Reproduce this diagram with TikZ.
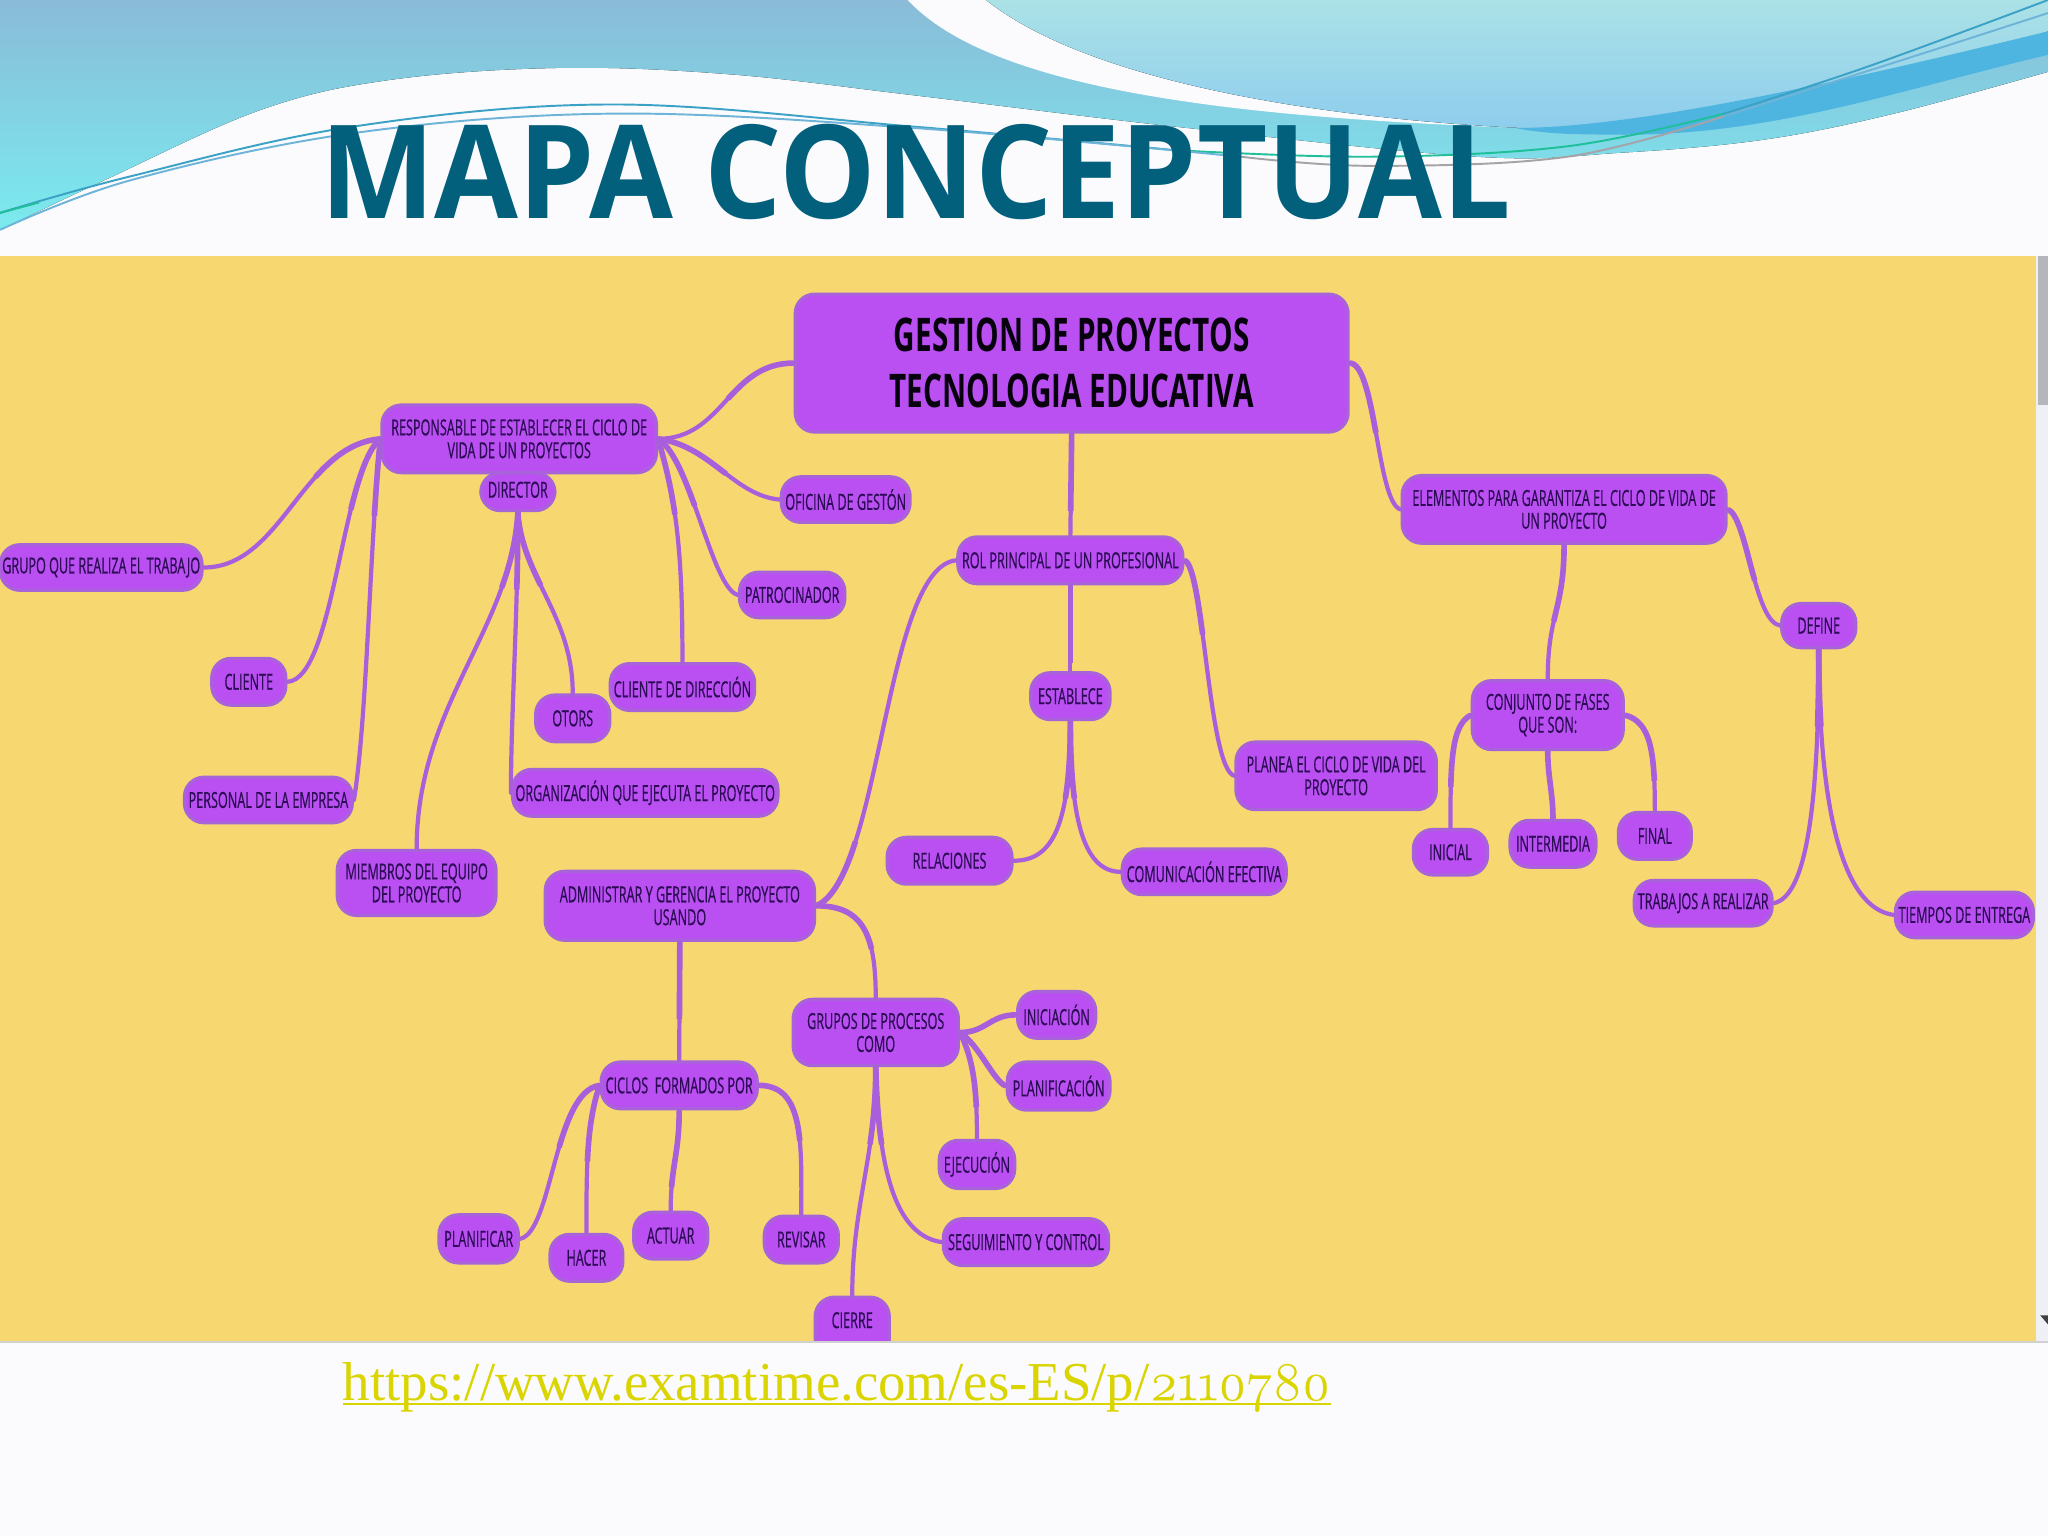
\documentclass[tikz,border=0pt]{standalone}
\usepackage{fontspec}
\newfontfamily\nodef[FakeStretch=0.57,FakeBold=0.5]{Open Sans}
\newfontfamily\mainf[FakeStretch=0.64]{Open Sans}
\newfontfamily\titlef[FakeStretch=0.935]{Open Sans}
\newfontfamily\urlf{Liberation Serif}
\newfontfamily\urlnum[Numbers=OldStyle,FakeBold=0.4]{Latin Modern Roman}
\newcommand{\ulbar}[1]{\setbox0\hbox{#1}\rlap{\rule[-1.4pt]{\wd0}{.55pt}}\box0}
\definecolor{panel}{HTML}{F6D770}
\definecolor{nfill}{HTML}{BA50F2}
\definecolor{nedge}{HTML}{A963DA}
\definecolor{nink}{HTML}{2C0C55}
\definecolor{conncol}{HTML}{A95FDC}
\definecolor{titlecol}{HTML}{02607C}
\definecolor{urlcol}{HTML}{DAD400}
\definecolor{slide}{HTML}{FBFBFD}
\definecolor{wavetop}{HTML}{8ABBD8}
\definecolor{wavelow}{HTML}{7AEBEF}
\definecolor{lighttop}{HTML}{ABE2E6}
\definecolor{lightlow}{HTML}{8CCBEE}
\definecolor{bandblue}{HTML}{4DB5DF}
\definecolor{linea}{HTML}{3BA2C6}
\definecolor{lineb}{HTML}{6DB4D8}
\definecolor{linegreen}{HTML}{1FBF9A}
\definecolor{linegray}{HTML}{A4A4A8}
\definecolor{thumb}{HTML}{B5B5BC}
\definecolor{track}{HTML}{EEF0F5}
\tikzset{
  nd/.style={draw=nedge,line width=.9pt,fill=nfill,rounded corners=5.5pt,inner sep=0pt,align=center,text=nink,
    font=\nodef\fontsize{6.3pt}{6.5pt}\selectfont},
  big/.style={font=\mainf\bfseries\fontsize{13.2pt}{15.8pt}\selectfont,text=black!85!nink},
  conn/.style={draw=conncol,line width=1.2pt,line cap=round},
  connhead/.style={draw=conncol,line width=1.6pt,dash pattern=on 22pt off 900pt},
  wline/.style={line width=.55pt},
}
\newcommand{\nb}[7][]{%
  \node[nd,#1,minimum width={(#4-#2)*0.3702pt},minimum height={(#5-#3)*0.3702pt}] (#6) at ({(#2+#4)/2},{(#3+#5)/2}) {#7};}
\newcommand{\cn}[1]{\draw[conn] #1; \draw[connhead] #1;}
\begin{document}
\begin{tikzpicture}[x=0.013061cm,y=-0.013061cm]
\useasboundingbox (0,0) rectangle (1568,1176);
\fill[slide] (0,0) rectangle (1568,1176);
% header waves
\fill[top color=wavetop,bottom color=wavelow] (0,176) -- (0,0) -- (1568,0) -- plot[smooth,tension=.6] coordinates {(1568,55)(1450,87)(1350,107)(1240,117)(1130,120)(900,97)(700,73)(560,57)(430,52)(300,61)(200,84)(80,138)(0,176)} -- cycle;
\fill[slide] (695,0) .. controls (760,70) and (950,90) .. (1165,98) -- (1165,98) .. controls (1000,90) and (830,60) .. (755,0) -- cycle;
\fill[top color=lighttop,bottom color=lightlow] (755,0) .. controls (830,60) and (1000,90) .. (1165,98) .. controls (1300,105) and (1450,60) .. (1568,24) -- (1568,0) -- cycle;
\fill[bandblue] (1160,98) .. controls (1250,98) and (1400,65) .. (1568,24) -- (1568,42) .. controls (1450,70) and (1350,106) .. (1230,103) .. controls (1200,103) and (1180,102) .. (1160,98) -- cycle;
\draw[wline,linea] plot[smooth,tension=.6] coordinates {(0,163)(100,135)(270,97)(470,80)(700,97)(900,115)};
\draw[wline,linegreen] plot[smooth,tension=.6] coordinates {(900,115)(1050,120)(1200,112)(1320,87)};
\draw[wline,linea] plot[smooth,tension=.6] coordinates {(1320,87)(1430,51)(1568,0)};
\draw[wline,linegreen] (0,163) -- (30,155);
\draw[wline,lineb] plot[smooth,tension=.6] coordinates {(0,176)(100,138)(270,102)(470,87)(700,98)(950,120)};
\draw[wline,linegray] plot[smooth,tension=.6] coordinates {(950,120)(1050,127)(1200,120)(1320,89)};
\draw[wline,lineb] plot[smooth,tension=.6] coordinates {(1320,89)(1450,48)(1568,10)};
% title
\node[text=titlecol,font=\titlef\bfseries\fontsize{37pt}{40pt}\selectfont,inner sep=0pt] (title) at (701,132) {MAPA CONCEPTUAL};
% panel
\fill[panel] (0,196) rectangle (1559,1027);
\fill[track] (1559,196) rectangle (1568,1027);
\fill[thumb] (1560,196) rectangle (1568,310);
\fill[black!75] (1562,1007) -- (1568,1007) -- (1568,1014) -- cycle;
% nodes
\nb[big]{608}{225}{1033}{331}{main}{GESTION DE PROYECTOS\\TECNOLOGIA EDUCATIVA}
\nb{292}{310}{503}{362}{resp}{RESPONSABLE DE ESTABLECER EL CICLO DE\\VIDA DE UN PROYECTOS}
\nb{368}{362}{425}{391}{director}{\raisebox{1.2pt}{DIRECTOR}}
\nb{0}{417}{155}{452}{grupo}{GRUPO QUE REALIZA EL TRABAJO}
\nb{162}{504}{219}{540}{cliente}{CLIENTE}
\nb{141}{595}{270}{630}{personal}{PERSONAL DE LA EMPRESA}
\nb{258}{651}{380}{701}{miembros}{MIEMBROS DEL EQUIPO\\DEL PROYECTO}
\nb{598}{365}{697}{400}{oficina}{OFICINA DE GESTÓN}
\nb{566}{438}{647}{473}{patro}{PATROCINADOR}
\nb{467}{508}{578}{544}{clidir}{CLIENTE DE DIRECCIÓN}
\nb{410}{532}{467}{568}{otors}{OTORS}
\nb{392}{589}{596}{625}{org}{ORGANIZACIÓN QUE EJECUTA EL PROYECTO}
\nb{733}{411}{906}{447}{rol}{ROL PRINCIPAL DE UN PROFESIONAL}
\nb{789}{515}{850}{551}{establece}{ESTABLECE}
\nb{679}{641}{775}{677}{relaciones}{RELACIONES}
\nb{859}{650}{985}{685}{comunica}{COMUNICACIÓN EFECTIVA}
\nb{946}{568}{1100}{620}{planea}{PLANEA EL CICLO DE VIDA DEL\\PROYECTO}
\nb{417}{667}{624}{720}{admin}{ADMINISTRAR Y GERENCIA EL PROYECTO\\USANDO}
\nb{607}{765}{734}{816}{grupos}{GRUPOS DE PROCESOS\\COMO}
\nb{460}{813}{580}{849}{ciclos}{CICLOS\ \ FORMADOS POR}
\nb{779}{759}{839}{795}{inicia}{INICIACIÓN}
\nb{771}{813}{850}{850}{planif}{PLANIFICACIÓN}
\nb{719}{873}{777}{910}{ejec}{EJECUCIÓN}
\nb{722}{933}{849}{969}{segui}{SEGUIMIENTO Y CONTROL}
\nb{624}{993}{681}{1040}{cierre}{\raisebox{4.3pt}{CIERRE}}
\nb{336}{930}{397}{967}{planificar}{PLANIFICAR}
\nb{421}{945}{477}{981}{hacer}{HACER}
\nb{485}{928}{542}{964}{actuar}{ACTUAR}
\nb{585}{931}{642}{967}{revisar}{REVISAR}
\nb{1073}{364}{1322}{416}{elementos}{ELEMENTOS PARA GARANTIZA EL CICLO DE VIDA DE\\UN PROYECTO}
\nb{1127}{521}{1243}{574}{conjunto}{CONJUNTO DE FASES\\QUE SON:}
\nb{1082}{635}{1139}{670}{inicial}{INICIAL}
\nb{1156}{628}{1222}{664}{intermedia}{INTERMEDIA}
\nb{1239}{622}{1295}{658}{final}{FINAL}
\nb{1364}{462}{1421}{496}{define}{DEFINE}
\nb{1251}{674}{1357}{709}{trabajos}{TRABAJOS A REALIZAR}
\nb{1451}{683}{1557}{718}{tiempos}{TIEMPOS DE ENTREGA}
% connectors
\cn{(main.west) .. controls +(-50,0) and +(50,0) .. (resp.east)}
\cn{(main.east) .. controls +(20,0) and +(-18,-5) .. (elementos.west)}
\cn{(main.south) -- (rol.north)}
\cn{(resp.west) .. controls +(-60,5) and +(60,0) .. (grupo.east)}
\cn{(resp.west) .. controls +(-30,25) and +(36,-2) .. (cliente.east)}
\cn{(resp.west) .. controls +(-8,80) and +(10,-60) .. (personal.east)}
\cn{(resp.east) .. controls +(40,5) and +(-35,-3) .. (oficina.west)}
\cn{(resp.east) .. controls +(25,15) and +(-20,-5) .. (patro.west)}
\cn{(resp.east) .. controls +(15,50) and +(0,-80) .. (clidir.north)}
\cn{(director.south) .. controls +(-5,90) and +(0,-110) .. (miembros.north)}
\cn{(director.south) .. controls +(0,80) and +(0,-60) .. (org.west)}
\cn{(director.south) .. controls +(3,50) and +(0,-60) .. (otors.north)}
\cn{(admin.east) .. controls +(50,-20) and +(-55,5) .. (rol.west)}
\cn{(admin.east) .. controls +(35,0) and +(0,-50) .. (grupos.north)}
\cn{(admin.south) -- (ciclos.north)}
\cn{(grupos.east) .. controls +(20,0) and +(-20,0) .. (inicia.west)}
\cn{(grupos.east) .. controls +(15,10) and +(-10,-5) .. (planif.west)}
\cn{(grupos.east) .. controls +(10,20) and +(0,-40) .. (ejec.north)}
\cn{(grupos.south) .. controls +(2,80) and +(-35,-5) .. (segui.west)}
\cn{(grupos.south) .. controls +(0,70) and +(0,-70) .. (cierre.north)}
\cn{(ciclos.west) .. controls +(-35,5) and +(25,-5) .. (planificar.east)}
\cn{(ciclos.west) .. controls +(-10,30) and +(0,-50) .. (hacer.north)}
\cn{(ciclos.south) .. controls +(0,35) and +(0,-35) .. (actuar.north)}
\cn{(ciclos.east) .. controls +(35,0) and +(0,-55) .. (revisar.north)}
\cn{(rol.east) .. controls +(15,5) and +(-20,-5) .. (planea.west)}
\cn{(rol.south) -- (establece.north)}
\cn{(establece.south) .. controls +(0,80) and +(30,0) .. (relaciones.east)}
\cn{(establece.south) .. controls +(0,70) and +(-30,0) .. (comunica.west)}
\cn{(elementos.south) .. controls +(0,50) and +(0,-50) .. (conjunto.north)}
\cn{(conjunto.west) .. controls +(-15,8) and +(0,-50) .. (inicial.north)}
\cn{(conjunto.south) .. controls +(0,20) and +(0,-20) .. (intermedia.north)}
\cn{(conjunto.east) .. controls +(20,5) and +(0,-45) .. (final.north)}
\cn{(elementos.east) .. controls +(15,5) and +(-20,-3) .. (define.west)}
\cn{(define.south) .. controls +(0,120) and +(25,-5) .. (trabajos.east)}
\cn{(define.south) .. controls +(0,120) and +(-40,-5) .. (tiempos.west)}
% footer
\fill[slide] (0,1028) rectangle (1568,1176);
\draw[black!18,line width=.5pt] (0,1027.5) -- (1568,1027.5);
\node[text=urlcol,font=\urlf\fontsize{15.6pt}{18pt}\selectfont,inner sep=0pt,anchor=base west] (url) at (262,1072) {\ulbar{https://www.examtime.com/es-ES/p/{\urlnum\fontsize{15.6pt}{18pt}\selectfont 2110780}}};
\end{tikzpicture}
\end{document}
